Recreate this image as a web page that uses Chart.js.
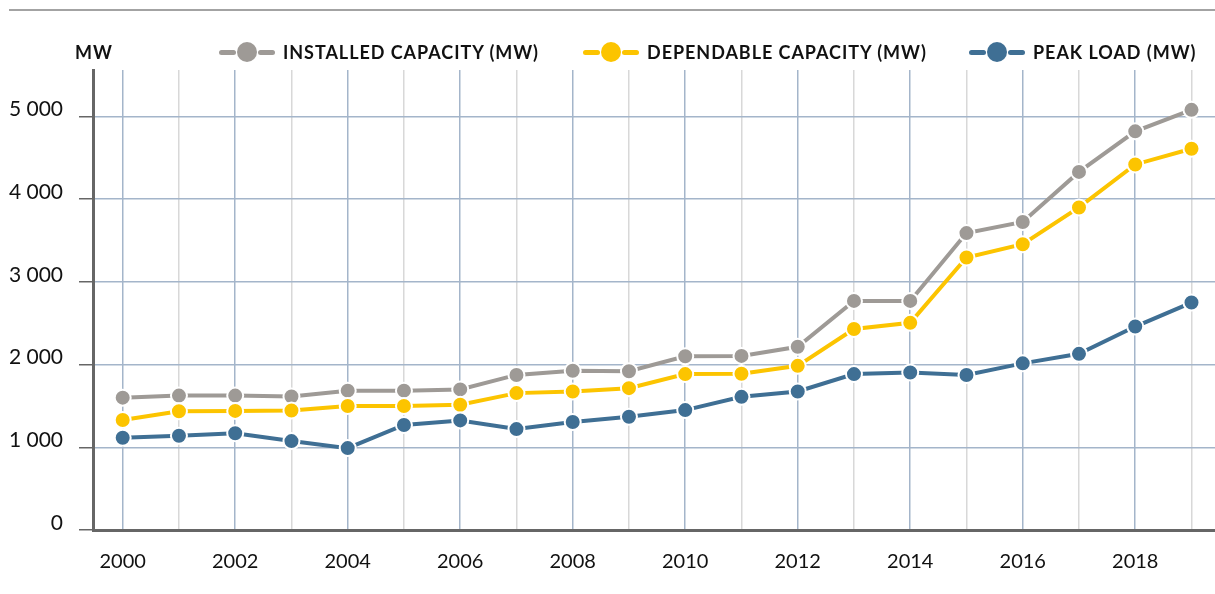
<!DOCTYPE html>
<html>
<head>
<meta charset="utf-8">
<script src="https://cdn.jsdelivr.net/npm/chart.js"></script>
<style>
  body { margin: 0; background: #fff; font-family: Lato, sans-serif; }
  #wrap { position: relative; width: 1215px; height: 594px; }
  #rule { position: absolute; left: 9px; right: 0; top: 9px; border-top: 2px solid #a3a3a3; }
  .lbl { position: absolute; top: 41px; font-weight: bold; font-size: 18px; letter-spacing: 0.95px; line-height: 22px; color: #111; white-space: nowrap; display: flex; align-items: center; }
  .sym { position: relative; width: 56px; height: 20px; margin-right: 8px; }
  .sym i { position: absolute; top: 8px; width: 17px; height: 5px; border-radius: 3px; }
  .sym b { position: absolute; left: 18px; top: 0; width: 20px; height: 20px; border-radius: 50%; }
</style>
</head>
<body>
<div id="wrap">
  <div id="rule"></div>
  <div class="lbl" style="left:75px">MW</div>
  <canvas id="linechart" width="1215" height="594"></canvas>
</div>
<script>
// Dados
const years = [2000, 2001, 2002, 2003, 2004, 2005, 2006, 2007, 2008, 2009,
               2010, 2011, 2012, 2013, 2014, 2015, 2016, 2017, 2018, 2019];
const installed = [1600, 1625, 1625, 1615, 1685, 1685, 1700, 1875, 1925, 1920,
                   2100, 2105, 2215, 2770, 2770, 3590, 3725, 4330, 4820, 5080];
const dependable = [1330, 1435, 1440, 1445, 1500, 1500, 1515, 1655, 1675, 1715,
                    1885, 1890, 1985, 2430, 2505, 3295, 3455, 3900, 4420, 4610];
const peakLoad = [1115, 1140, 1170, 1075, 990, 1270, 1325, 1220, 1305, 1370,
                  1450, 1610, 1675, 1885, 1905, 1875, 2015, 2130, 2460, 2750];
const yTicks = [0, 1000, 2000, 3000, 4000, 5000];

const labels = ['INSTALLED CAPACITY (MW)', 'DEPENDABLE CAPACITY (MW)', 'PEAK LOAD (MW)'];
const colors = ['#9e9a96', '#fcc400', '#3f6f94'];
const legendLeft = [219, 583, 969];

// legenda
labels.forEach((t, i) => {
  const el = document.createElement('div');
  el.className = 'lbl';
  el.style.left = legendLeft[i] + 'px';
  el.innerHTML = '<span class="sym"><i style="left:0;background:' + colors[i] + '"></i>' +
    '<b style="background:' + colors[i] + '"></b>' +
    '<i style="left:39px;background:' + colors[i] + '"></i></span>' + t;
  document.getElementById('wrap').appendChild(el);
});

const toPts = arr => arr.map((v, i) => ({ x: years[i], y: v }));

function ds(i, arr) {
  return {
    label: labels[i],
    data: toPts(arr),
    borderColor: colors[i],
    borderWidth: 4,
    pointBackgroundColor: colors[i],
    pointBorderColor: '#fff',
    pointBorderWidth: 2,
    pointRadius: 8,
    pointHoverRadius: 8,
    tension: 0
  };
}

const ctx = document.getElementById('linechart');

new Chart(ctx, {
  type: 'line',
  data: {
    datasets: [ds(2, peakLoad), ds(1, dependable), ds(0, installed)]
  },
  options: {
    responsive: false,
    animation: false,
    layout: { autoPadding: false, padding: { top: 70, right: 0, left: 0, bottom: 0 } },
    plugins: { legend: { display: false }, tooltip: { enabled: false } },
    scales: {
      x: {
        type: 'linear',
        min: 1999.472,
        max: 2019.418,
        afterBuildTicks: s => { s.ticks = years.map(v => ({ value: v })); },
        afterFit: s => { s.height = 64; s.paddingLeft = 0; s.paddingRight = 0; },
        border: { color: '#666', width: 3 },
        grid: {
          drawTicks: false,
          lineWidth: 1.5,
          color: c => (c.tick && c.tick.value % 2 === 0) ? '#a4b5ca' : '#d8d8d8'
        },
        ticks: {
          padding: 20,
          color: '#111',
          font: { family: 'Lato', size: 20 },
          callback: v => (v % 2 === 0 ? String(v) : '')
        }
      },
      y: {
        min: 0,
        max: 5562,
        afterBuildTicks: s => { s.ticks = yTicks.map(v => ({ value: v })); },
        afterFit: s => { s.width = 93; },
        border: { color: '#666', width: 3 },
        grid: {
          lineWidth: 1.5,
          color: '#a4b5ca',
          tickColor: '#666',
          tickLength: 14
        },
        ticks: {
          padding: 16,
          labelOffset: -7,
          color: '#111',
          font: { family: 'Lato', size: 21 },
          callback: v => v.toLocaleString('en-US').replace(',', ' ')
        }
      }
    }
  }
});
</script>
</body>
</html>
